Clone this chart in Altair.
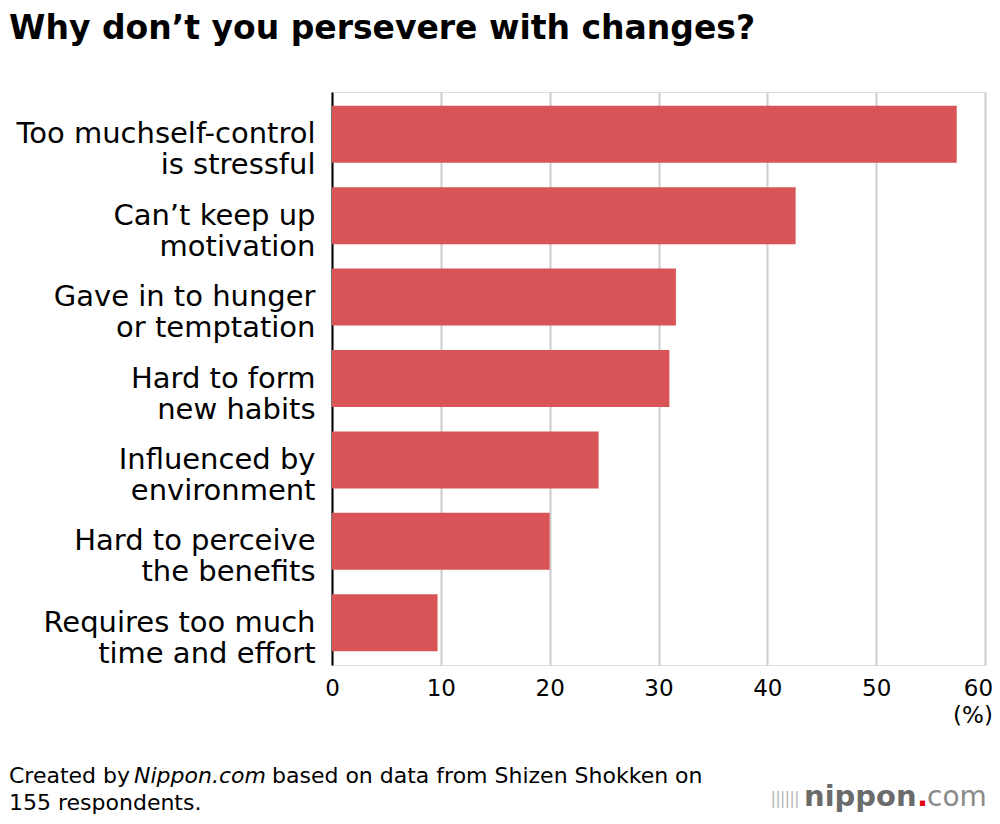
import altair as alt
import pandas as pd

# ---- data ----
categories = [
    "Too muchself-control|is stressful",
    "Can’t keep up|motivation",
    "Gave in to hunger|or temptation",
    "Hard to form|new habits",
    "Influenced by|environment",
    "Hard to perceive|the benefits",
    "Requires too much|time and effort",
]
values = [57.4, 42.6, 31.6, 31.0, 24.5, 20.0, 9.7]
x_ticks = [0, 10, 20, 30, 40, 50, 60]

title_text = "Why don’t you persevere with changes?"
footer_a = "Created by"
footer_b = "Nippon.com"
footer_c = "based on data from Shizen Shokken on"
footer_d = "155 respondents."
unit_text = "(%)"

df = pd.DataFrame({"reason": categories, "pct": values})

W, H = 653, 573
FONT = "DejaVu Sans"

bars = alt.Chart(df).mark_bar(color="#d85457").encode(
    x=alt.X(
        "pct:Q",
        scale=alt.Scale(domain=[0, 60], nice=False),
        axis=alt.Axis(
            values=x_ticks, title=None, grid=True, gridColor="#cccccc",
            gridWidth=2, domain=False, ticks=False, labelFontSize=23,
            labelColor="black", labelPadding=12, labelFont=FONT,
            labelFlush=False,
            labelOffset={"expr": "datum.value == 60 ? -7 : 0"},
        ),
    ),
    y=alt.Y(
        "reason:N", sort=categories,
        scale=alt.Scale(paddingInner=0.3, paddingOuter=0.17),
        axis=alt.Axis(
            title=None, labelExpr="split(datum.label, '|')", labelFontSize=29,
            labelLineHeight=31, labelColor="black", labelPadding=17,
            ticks=False, domain=True, domainColor="black", domainWidth=2,
            labelFont=FONT, labelLimit=500, grid=False, gridOpacity=0,
        ),
    ),
)


def txt(text, x, y, size, weight="normal", color="black", align="left",
        baseline="alphabetic", style="normal", font=FONT):
    return alt.Chart(pd.DataFrame({"t": [text]})).mark_text(
        font=font, fontSize=size, fontWeight=weight, color=color, align=align,
        baseline=baseline, fontStyle=style,
    ).encode(x=alt.value(x), y=alt.value(y), text="t:N")


layers = [
    bars,
    txt(title_text, -323, -53, 33, weight="bold"),
    txt(unit_text, 641, 624, 23, align="center", baseline="middle"),
    txt(footer_a, -323, 691, 22),
    txt(footer_b, -198, 691, 22, style="italic"),
    txt(footer_c, -60, 691, 22),
    txt(footer_d, -323, 718, 22),
    txt("||||||", 439, 712, 18, color="#bbbbbb", font="Liberation Sans"),
    txt("nippon", 472, 714, 29, weight="bold", color="#6b6b6b"),
    txt(".", 585, 714, 29, weight="bold", color="#e60012"),
    txt("com", 595, 714, 28, color="#8a8a8a"),
]

chart = (
    alt.layer(*layers)
    .properties(
        width=W, height=H,
        autosize=alt.AutoSizeParams(type="none"),
        padding={"left": 324, "top": 84, "right": 7, "bottom": 151},
    )
    .configure_view(stroke="transparent", strokeWidth=0, fill="white")
    .configure_axisX(domain=False, tickBand="center")
    .configure(background="white")
)

chart.save("out.html", embed_options={"renderer": "svg", "actions": False})
